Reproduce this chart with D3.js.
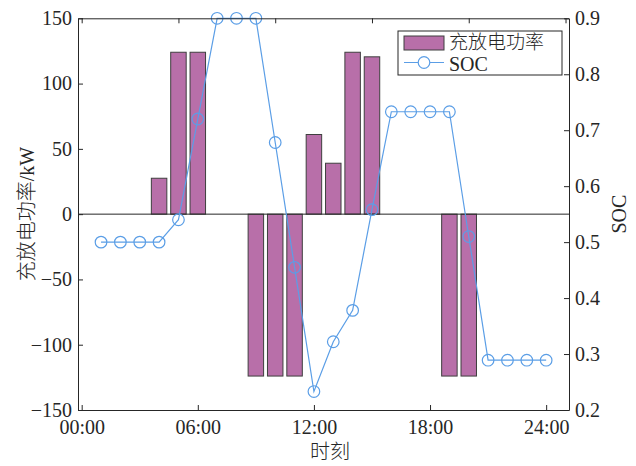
<!DOCTYPE html>
<html><head><meta charset="utf-8">
<script src="https://cdn.jsdelivr.net/npm/d3@7"></script>
<style>body{margin:0;background:#fff;} svg{display:block;}</style>
</head><body>
<script>
const barHours = [4, 5, 6, 9, 10, 11, 12, 13, 14, 15, 19, 20];
const barPower = [27.5, 124, 124, -124, -124, -124, 61, 39, 124, 120.5, -124, -124];
const socHours = [1,2,3,4,5,6,7,8,9,10,11,12,13,14,15,16,17,18,19,20,21,22,23,24];
const socValues = [0.5,0.5,0.5,0.5,0.54,0.72,0.9,0.9,0.9,0.678,0.455,0.233,0.322,0.378,0.558,0.733,0.733,0.733,0.733,0.51,0.289,0.289,0.289,0.289];
const xTicks = [0, 6, 12, 18, 24];
const xTickLabels = ["00:00", "06:00", "12:00", "18:00", "24:00"];
const xTopTicks = [0, 5, 10, 15, 20, 25];
const leftTicks = [-150, -100, -50, 0, 50, 100, 150];
const rightTicks = [0.2, 0.3, 0.4, 0.5, 0.6, 0.7, 0.8, 0.9];

const W = 636, H = 466;
const L = 78, R = 569, T = 18.3, B = 410;
const axisColor = "#262626";
const font = "Liberation Serif, Times New Roman, serif";
const cjk = "Noto Sans CJK SC, sans-serif";
const fs = 20;

const svg = d3.select("body").append("svg").attr("width", W).attr("height", H);
const x = d3.scaleLinear().domain([-0.19, 25.18]).range([L, R]);
const yL = d3.scaleLinear().domain([-150, 150]).range([B, T]);
const yR = d3.scaleLinear().domain([0.2, 0.9]).range([B, T]);

// bars
const bw = 0.8;
svg.append("g").selectAll("rect").data(barHours).join("rect")
  .attr("x", (d) => x(d - bw/2))
  .attr("width", (d) => x(d + bw/2) - x(d - bw/2))
  .attr("y", (d, i) => Math.min(yL(barPower[i]), yL(0)))
  .attr("height", (d, i) => Math.abs(yL(barPower[i]) - yL(0)))
  .attr("fill", "#b86fa9").attr("stroke", "#3f3f3f").attr("stroke-width", 1);

// baseline
svg.append("line").attr("x1", L).attr("x2", R).attr("y1", yL(0)).attr("y2", yL(0))
  .attr("stroke", axisColor).attr("stroke-width", 1);

// SOC line
const lineColor = "#5b9ee6";
const socData = socHours.map((h, i) => [h, socValues[i]]);
svg.append("path").datum(socData)
  .attr("d", d3.line().x(d => x(d[0])).y(d => yR(d[1])))
  .attr("fill", "none").attr("stroke", lineColor).attr("stroke-width", 1.2);
svg.append("g").selectAll("circle").data(socData).join("circle")
  .attr("cx", d => x(d[0])).attr("cy", d => yR(d[1])).attr("r", 5.8)
  .attr("fill", "none").attr("stroke", lineColor).attr("stroke-width", 1.2);

// axes
const tl = 5;
const gBottom = svg.append("g").attr("transform", `translate(0,${B})`)
  .call(d3.axisBottom(x).tickValues(xTicks).tickFormat((d, i) => xTickLabels[i]).tickSizeInner(-tl).tickSizeOuter(0).tickPadding(10));
const gTop = svg.append("g").attr("transform", `translate(0,${T})`)
  .call(d3.axisTop(x).tickValues(xTopTicks).tickFormat("").tickSizeInner(-tl).tickSizeOuter(0));
const gLeft = svg.append("g").attr("transform", `translate(${L},0)`)
  .call(d3.axisLeft(yL).tickValues(leftTicks).tickFormat(d3.format("d")).tickSizeInner(-tl).tickSizeOuter(0).tickPadding(6));
const gRight = svg.append("g").attr("transform", `translate(${R},0)`)
  .call(d3.axisRight(yR).tickValues(rightTicks).tickFormat(d3.format(".1f")).tickSizeInner(-tl).tickSizeOuter(0).tickPadding(6));
[gBottom, gTop, gLeft, gRight].forEach(g => {
  g.attr("font-family", font).attr("font-size", fs);
  g.select(".domain").attr("stroke", axisColor).attr("stroke-width", 1);
  g.selectAll(".tick line").attr("stroke", axisColor);
  g.selectAll(".tick text").attr("fill", axisColor).attr("font-family", font).attr("font-size", fs);
});
gBottom.selectAll(".tick text").attr("dy", "0.71em");

// axis labels
const yl = svg.append("text").attr("transform", `translate(34,${(T+B)/2}) rotate(-90)`)
  .attr("text-anchor", "middle").attr("fill", axisColor).attr("font-size", fs);
yl.append("tspan").attr("font-family", cjk).attr("font-weight", 300).text("充放电功率");
yl.append("tspan").attr("font-family", font).text("/kW");
svg.append("text").attr("x", 330).attr("y", 459)
  .attr("text-anchor", "middle").attr("fill", axisColor)
  .attr("font-family", cjk).attr("font-size", fs).attr("font-weight", 300)
  .text("时刻");
svg.append("text").attr("transform", `translate(626,${(T+B)/2}) rotate(-90)`)
  .attr("text-anchor", "middle").attr("fill", axisColor)
  .attr("font-family", font).attr("font-size", fs)
  .text("SOC");

// legend
const lg = svg.append("g");
lg.append("rect").attr("x", 398).attr("y", 31).attr("width", 164).attr("height", 44)
  .attr("fill", "#fff").attr("stroke", axisColor).attr("stroke-width", 1);
lg.append("rect").attr("x", 404).attr("y", 36).attr("width", 40).attr("height", 14)
  .attr("fill", "#b86fa9").attr("stroke", "#3f3f3f");
lg.append("text").attr("x", 449).attr("y", 42).attr("dy", "0.35em").attr("fill", axisColor)
  .attr("font-family", cjk).attr("font-size", 19).attr("font-weight", 300)
  .text("充放电功率");
lg.append("line").attr("x1", 404).attr("x2", 444).attr("y1", 62.5).attr("y2", 62.5)
  .attr("stroke", lineColor).attr("stroke-width", 1.2);
lg.append("circle").attr("cx", 424).attr("cy", 62.5).attr("r", 5.8)
  .attr("fill", "#fff").attr("stroke", lineColor).attr("stroke-width", 1.2);
lg.append("text").attr("x", 449).attr("y", 64).attr("dy", "0.35em").attr("fill", axisColor)
  .attr("font-family", font).attr("font-size", fs)
  .text("SOC");
</script>
</body></html>
